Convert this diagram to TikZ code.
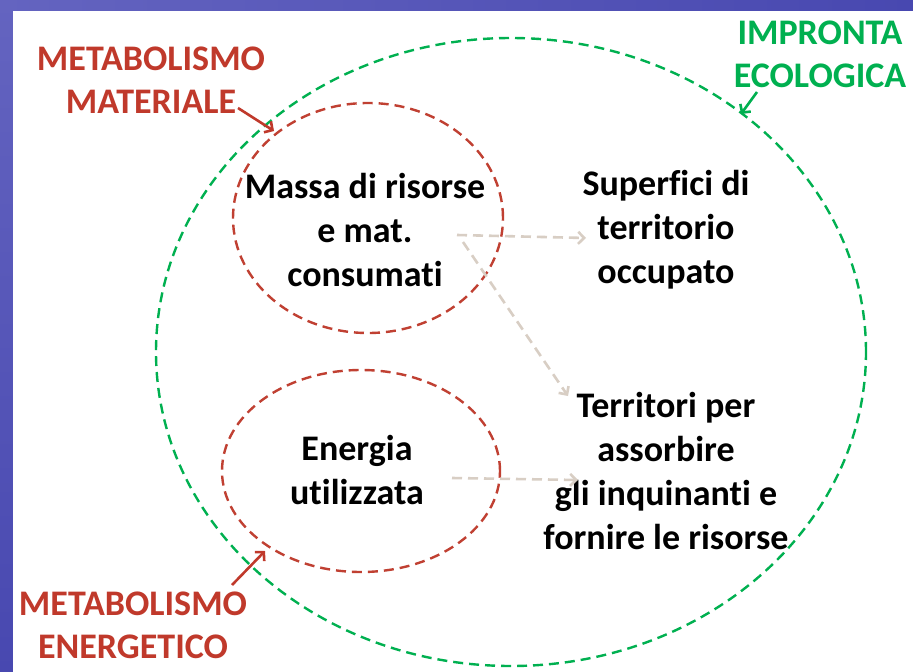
\documentclass[tikz,border=0pt]{standalone}
\usepackage{fontspec}
\setmainfont{Carlito}[Ligatures=NoCommon]
\usetikzlibrary{arrows.meta}
\definecolor{bgblue}{RGB}{72,72,176}
\definecolor{bglight}{RGB}{100,100,192}
\definecolor{lblred}{RGB}{192,57,43}
\definecolor{ringred}{RGB}{192,64,50}
\definecolor{ecogreen}{RGB}{0,176,80}
\definecolor{flowgray}{RGB}{216,206,196}
\begin{document}
\begin{tikzpicture}[x=1pt,y=-1pt,
  txt/.style={font=\fontsize{36}{44}\selectfont\bfseries, align=center, inner sep=0pt},
  lbl/.style={txt, font=\fontsize{36}{43}\selectfont\bfseries},
  ring/.style={draw=ringred, line width=2.4pt, dash pattern=on 10pt off 6pt},
  bigring/.style={draw=ecogreen, line width=2.4pt, dash pattern=on 10pt off 6pt},
  flow/.style={draw=flowgray, line width=2.6pt, dash pattern=on 10pt off 6pt, -{Straight Barb[length=6pt,width=12pt]}},
  pointer/.style={line width=2.6pt, -{Straight Barb[length=6pt,width=13pt]}}
]
\useasboundingbox (0,0) rectangle (913,672);
\shade[top color=bglight, bottom color=bgblue] (0,0) rectangle (913,672);
\shade[left color=bglight, right color=bgblue] (0,0) rectangle (913,11);
\fill[white] (13,11) rectangle (913,672);

% rings
\draw[bigring] (511,352) ellipse [x radius=355pt, y radius=314pt];
\draw[ring] (368,218) ellipse [x radius=135pt, y radius=115pt];
\draw[ring] (361,471) ellipse [x radius=139pt, y radius=101pt];

% texts
\node[txt] (massa) at (365,230) {Massa di risorse\\e mat.\\consumati};
\node[txt] (superf) at (666,230) {Superfici di\\territorio\\occupato};
\node[txt] (energia) at (357,470) {Energia\\utilizzata};
\node[txt] (territ) at (666,471) {Territori per\\assorbire\\gli inquinanti e\\fornire le risorse};

\node[lbl, text=lblred] (metmat) at (151,80) {METABOLISMO\\MATERIALE};
\node[lbl, text=lblred] (metene) at (133,625) {METABOLISMO\\ENERGETICO};
\node[lbl, text=ecogreen] (impr) at (820,54) {IMPRONTA\\ECOLOGICA};

% flow arrows
\coordinate (f1s) at (457,235);
\coordinate (f1e) at (586,238);
\coordinate (f2s) at (463,242);
\coordinate (f2e) at (568,396);
\coordinate (f3s) at (452,478);
\coordinate (f3e) at (578,480);
\draw[flow] (f1s) -- (f1e);
\draw[flow] (f2s) -- (f2e);
\draw[flow] (f3s) -- (f3e);

% pointers
\coordinate (p1s) at (238,108);
\coordinate (p1e) at (274,131);
\coordinate (p2s) at (232,585);
\coordinate (p2e) at (265,551);
\coordinate (p3s) at (757,92);
\coordinate (p3e) at (741,114);
\draw[pointer, lblred] (p1s) -- (p1e);
\draw[pointer, lblred] (p2s) -- (p2e);
\draw[pointer, ecogreen] (p3s) -- (p3e);
\end{tikzpicture}
\end{document}
